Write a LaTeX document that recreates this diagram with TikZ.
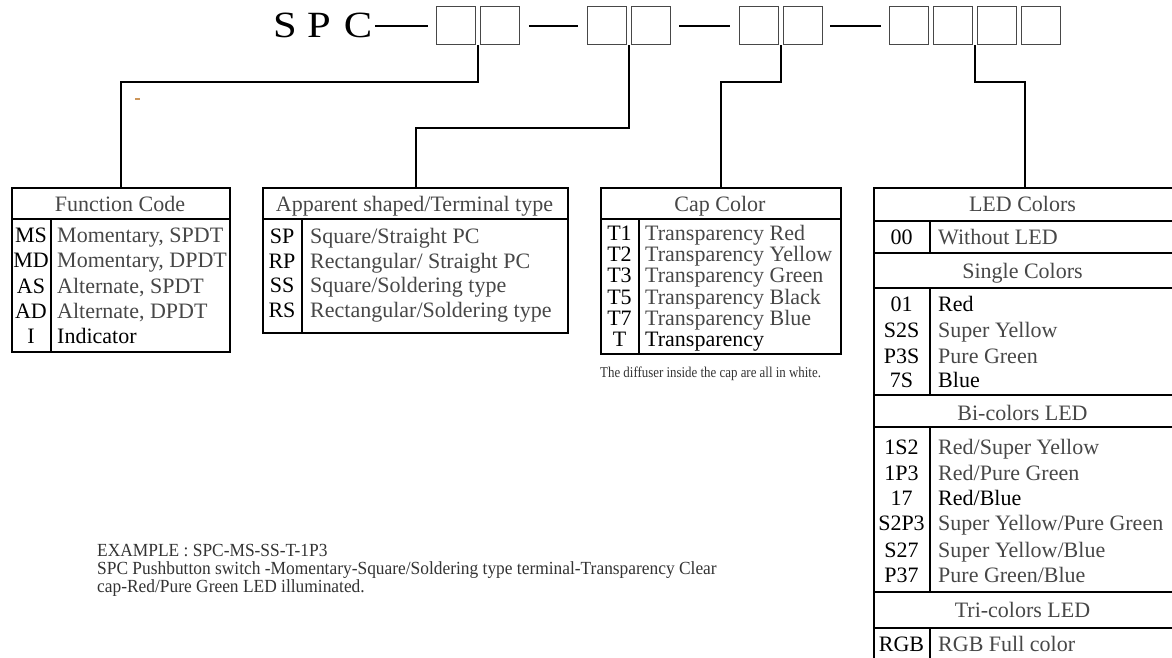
\documentclass[tikz,border=0pt]{standalone}
\usepackage{fontspec}
\setmainfont{Liberation Serif}
\usetikzlibrary{calc}
\definecolor{speck}{RGB}{205,150,90}
\begin{document}
\begin{tikzpicture}[x=1pt,y=-1pt,
  hbox/.style={draw=black!72, line width=1.4pt, minimum width=38.5pt, minimum height=38pt, inner sep=0pt, anchor=north west},
  tbl/.style={draw, line width=2pt, inner sep=0pt, anchor=north west},
  conn/.style={line width=2pt},
  rule/.style={line width=2pt},
  code/.style={font=\fontsize{22}{22}\selectfont, inner sep=0pt, anchor=base},
  desc/.style={font=\fontsize{22}{22}\selectfont, text=black!72, inner sep=0pt, anchor=base west},
  dark/.style={font=\fontsize{22}{22}\selectfont, text=black, inner sep=0pt, anchor=base west},
  ttl/.style={font=\fontsize{22}{22}\selectfont, text=black!72, inner sep=0pt, anchor=base},
  big/.style={font=\fontsize{37}{37}\selectfont, inner sep=0pt, anchor=base},
  note/.style={inner sep=0pt, anchor=base west, text=black!80}
]
\useasboundingbox (0,0) rectangle (1172,657);
\clip (0,0) rectangle (1172,657);

% ---------- header ----------
\node[big] (hS) at (285,37) {\scalebox{1.15}[1]{S}};
\node[big] (hP) at (319,37) {\scalebox{1.15}[1]{P}};
\node[big] (hC) at (358,37) {\scalebox{1.15}[1]{C}};

\node[hbox] (b1) at (436,6) {};
\node[hbox] (b2) at (480,6) {};
\node[hbox] (b3) at (587,6) {};
\node[hbox] (b4) at (631,6) {};
\node[hbox] (b5) at (739,6) {};
\node[hbox] (b6) at (783,6) {};
\node[hbox] (b7) at (889,6) {};
\node[hbox] (b8) at (933,6) {};
\node[hbox] (b9) at (977,6) {};
\node[hbox] (b10) at (1021,6) {};

\draw[conn, shorten <=3pt, shorten >=8pt] (hC.east |- b1.west) -- (b1.west);
\draw[conn, shorten <=9pt, shorten >=9pt] (b2.east) -- (b3.west);
\draw[conn, shorten <=8.5pt, shorten >=9pt] (b4.east) -- (b5.west);
\draw[conn, shorten <=7.5pt, shorten >=8pt] (b6.east) -- (b7.west);

\coordinate (j1) at ($(b1.south east)!0.5!(b2.south west)$);
\coordinate (j2) at ($(b3.south east)!0.5!(b4.south west)$);
\coordinate (j3) at ($(b5.south east)!0.5!(b6.south west)$);
\coordinate (j4) at ($(b8.south east)!0.5!(b9.south west)$);

% ---------- tables ----------
\node[tbl, minimum width=218pt, minimum height=164pt] (fc) at (11,187) {};
\node[tbl, minimum width=305pt, minimum height=145pt] (ap) at (262,187) {};
\node[tbl, minimum width=240pt, minimum height=166pt] (cc) at (600,187) {};
\node[tbl, minimum width=302pt, minimum height=490pt] (led) at (873,187) {};

% connectors
\draw[conn] (j1) -- ++(0,37) -| (fc.north);
\draw[conn] (j2) -- ++(0,83) -| (ap.north);
\draw[conn] (j3) -- ++(0,37) -| (cc.north);
\draw[conn] (j4) -- ++(0,37) -| (led.north);

% stray speck
\draw[speck, line width=1.6pt] (135,99) -- (139.5,99);

% Function Code
\draw[rule] (11,219) -- (229,219);
\draw[rule] (51,219) -- (51,351);
\node[ttl] (fct) at (120,211.5) {Function Code};
\foreach \c/\d/\y [count=\i] in {MS/{Momentary, SPDT}/242.5, MD/{Momentary, DPDT}/267.5, AS/{Alternate, SPDT}/293, AD/{Alternate, DPDT}/318.5}{
  \node[code] (fcc\i) at (31,\y) {\c};
  \node[desc] (fcd\i) at (57,\y) {\d};
}
\node[code] (fcc5) at (31,343.5) {I};
\node[dark] (fcd5) at (57,343.5) {Indicator};

% Apparent shaped
\draw[rule] (262,219) -- (567,219);
\draw[rule] (302,219) -- (302,332);
\node[ttl] (apt) at (414.5,211) {Apparent shaped/Terminal type};
\foreach \c/\d/\y [count=\i] in {SP/{Square/Straight PC}/243.5, RP/{Rectangular/ Straight PC}/268, SS/{Square/Soldering type}/292.5, RS/{Rectangular/Soldering type}/317}{
  \node[code] (apc\i) at (282,\y) {\c};
  \node[desc] (apd\i) at (310,\y) {\d};
}

% Cap Color
\draw[rule] (600,219) -- (840,219);
\draw[rule] (639,219) -- (639,353);
\node[ttl] (cct) at (720,211) {Cap Color};
\foreach \c/\d/\y [count=\i] in {T1/{Transparency Red}/240.5, T2/{Transparency Yellow}/261.7, T3/{Transparency Green}/282.9, T5/{Transparency Black}/304.1, T7/{Transparency Blue}/325.3}{
  \node[code] (ccc\i) at (619.5,\y) {\c};
  \node[desc] (ccd\i) at (645,\y) {\d};
}
\node[code] (ccc6) at (619.5,346.5) {T};
\node[dark] (ccd6) at (645,346.5) {Transparency};
\node[note, font=\fontsize{15}{15}\selectfont] (ccn) at (600,377.5) {\scalebox{0.86}[1]{The diffuser inside the cap are all in white.}};

% LED Colors
\foreach \yy in {221,253,288,395,427,592,628}{
  \draw[rule] (873,\yy) -- (1175,\yy);
}
\draw[rule] (930,221) -- (930,253);
\draw[rule] (930,288) -- (930,395);
\draw[rule] (930,427) -- (930,592);
\draw[rule] (930,628) -- (930,680);
\node[ttl] (ledt) at (1022.5,211.5) {LED Colors};
\node[code] (l0c) at (901.5,244.5) {00};
\node[desc] (l0d) at (938,244.5) {Without LED};
\node[ttl] (lst) at (1022.5,278) {Single Colors};
\node[code] (l1c) at (901.5,311.5) {01};
\node[dark] (l1d) at (938,311.5) {Red};
\node[code] (l2c) at (901.5,337.5) {S2S};
\node[desc] (l2d) at (938,337.5) {Super Yellow};
\node[code] (l3c) at (901.5,363.5) {P3S};
\node[desc] (l3d) at (938,363.5) {Pure Green};
\node[code] (l4c) at (901.5,387.5) {7S};
\node[dark] (l4d) at (938,387.5) {Blue};
\node[ttl] (lbt) at (1022.5,420) {Bi-colors LED};
\node[code] (b1c) at (901.5,454.5) {1S2};
\node[desc] (b1d) at (938,454.5) {Red/Super Yellow};
\node[code] (b2c) at (901.5,480.5) {1P3};
\node[desc] (b2d) at (938,480.5) {Red/Pure Green};
\node[code] (b3c) at (901.5,505.5) {17};
\node[dark] (b3d) at (938,505.5) {Red/Blue};
\node[code] (b4c) at (901.5,530.5) {S2P3};
\node[desc] (b4d) at (938,530.5) {Super Yellow/Pure Green};
\node[code] (b5c) at (901.5,557.5) {S27};
\node[desc] (b5d) at (938,557.5) {Super Yellow/Blue};
\node[code] (b6c) at (901.5,582.5) {P37};
\node[desc] (b6d) at (938,582.5) {Pure Green/Blue};
\node[ttl] (ltt) at (1022.5,617) {Tri-colors LED};
\node[code] (t1c) at (901.5,651) {RGB};
\node[desc] (t1d) at (938,651) {RGB Full color};

% Example
\node[note, font=\fontsize{18.5}{18.5}\selectfont] (ex1) at (97,556) {\scalebox{0.94}[1]{EXAMPLE : SPC-MS-SS-T-1P3}};
\node[note, font=\fontsize{18.5}{18.5}\selectfont] (ex2) at (97,574) {\scalebox{0.94}[1]{SPC Pushbutton switch -Momentary-Square/Soldering type terminal-Transparency Clear}};
\node[note, font=\fontsize{18.5}{18.5}\selectfont] (ex3) at (97,592) {\scalebox{0.94}[1]{cap-Red/Pure Green LED illuminated.}};
\end{tikzpicture}
\end{document}
